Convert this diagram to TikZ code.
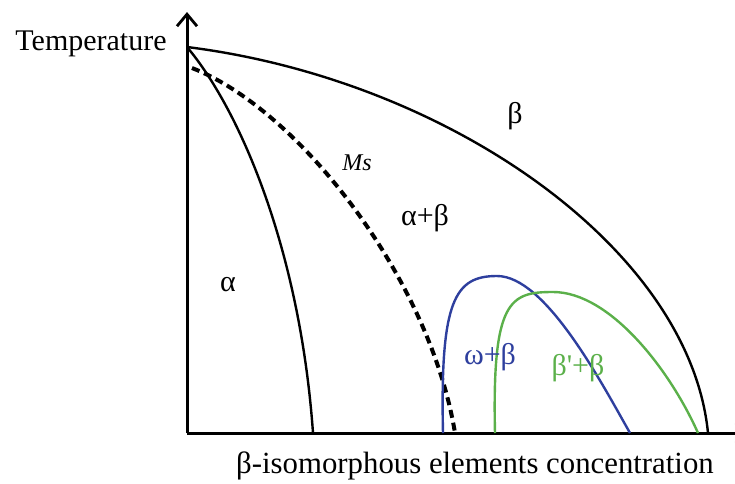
\documentclass[tikz,border=0pt]{standalone}
\usepackage{fontspec}
\setmainfont{Liberation Serif}
\usepackage{xcolor}
\usetikzlibrary{arrows.meta, positioning}
\definecolor{omegablue}{HTML}{2E3F9E}
\definecolor{primegreen}{HTML}{5BB04A}

\begin{document}
\begin{tikzpicture}[
  x=0.5pt, y=-0.5pt,
  axis/.style={line width=1.5pt, -{Straight Barb[length=6pt, width=10pt, line width=1.4pt]}},
  phase/.style={line width=1.2pt},
  msline/.style={line width=2pt, dash pattern=on 4pt off 2.5pt},
  region/.style={font=\fontsize{15}{18}\selectfont, inner sep=0pt},
]
\useasboundingbox (0,0) rectangle (735,483);

\coordinate (O)    at (187,433);
\coordinate (ytop) at (187,12);
\coordinate (xend) at (750,433);
\coordinate (T0)   at (187,47);
\coordinate (M0)   at (192,68);

\draw[axis] (O) -- (ytop);
\draw[axis] (O) -- (xend);

% solvus / transus lines
\draw[phase] (T0) .. controls (450,80) and (690,250) .. (708,433);
\draw[phase] (T0) .. controls (240,110) and (300,250) .. (313,433);
\draw[msline] (M0) .. controls (300,110) and (430,280) .. (455,433);

\draw[phase, omegablue] (443,433) .. controls (440,300) and (455,276) .. (497,276)
                                  .. controls (545,276) and (600,380) .. (630,433);
\draw[phase, primegreen] (495,433) .. controls (492,300) and (510,292) .. (553,292)
                                   .. controls (610,292) and (670,370) .. (698,433);

\node[region] (temp)  at (91,44)   {Temperature};
\node[region] (beta)  at (515,116) {β};
\node[region, font=\fontsize{12}{14}\selectfont\itshape] (ms) at (357,163) {Ms};
\node[region] (ab)    at (425,218) {α+β};
\node[region] (alpha) at (228,285) {α};
\node[region, text=omegablue]  (wb) at (490,357) {ω+β};
\node[region, text=primegreen] (pb) at (578,368) {\addfontfeature{Ligatures=TeXOff}β'+β};
\node[region, font=\fontsize{15.4}{18}\selectfont] (xlab) at (475,466) {β-isomorphous elements concentration};
\end{tikzpicture}
\end{document}
